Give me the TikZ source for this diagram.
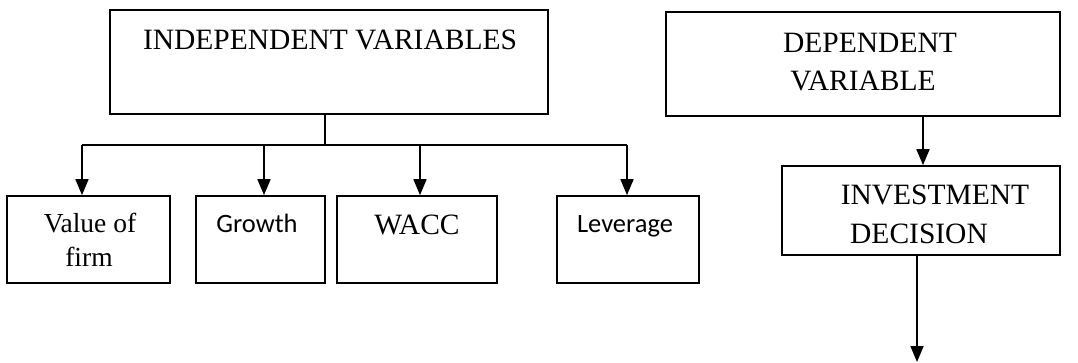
\documentclass[tikz,border=0pt]{standalone}
\usepackage{fontspec}
\setmainfont{Liberation Serif}
\newfontfamily\calib{Carlito}
\usetikzlibrary{arrows.meta}

\tikzset{
  box/.style={draw=black, line width=1.7pt, rectangle, inner sep=0pt},
  lbl/.style={anchor=base, inner sep=0pt, font=\fontsize{29.5}{35}\selectfont},
  sml/.style={anchor=base, inner sep=0pt, font=\fontsize{27.5}{33}\selectfont},
  cal/.style={anchor=base, inner sep=0pt, font=\calib\fontsize{26.5}{32}\selectfont},
  link/.style={draw=black, line width=1.7pt},
  arr/.style={link, -{Triangle[width=13pt,length=16pt]}}
}

\begin{document}
\begin{tikzpicture}[x=1pt, y=-1pt]
  \useasboundingbox (0,0) rectangle (1078,362);

  % boxes
  \node[box, minimum width=438pt, minimum height=104pt] (indep)  at (329,62)   {};
  \node[box, minimum width=394pt, minimum height=104pt] (dep)    at (863,64)   {};
  \node[box, minimum width=278pt, minimum height=89pt]  (invest) at (921,210.5) {};
  \node[box, minimum width=163pt, minimum height=87pt]  (value)  at (88.5,239.5) {};
  \node[box, minimum width=129pt, minimum height=87pt]  (growth) at (260.5,239.5) {};
  \node[box, minimum width=160pt, minimum height=87pt]  (wacc)   at (417,239.5) {};
  \node[box, minimum width=142pt, minimum height=87pt]  (lev)    at (628,239.5) {};

  % texts
  \node[lbl] (tIndep) at (330,49) {INDEPENDENT VARIABLES};
  \node[lbl] (tDep1)  at (870,52) {DEPENDENT};
  \node[lbl] (tDep2)  at (863,90) {VARIABLE};
  \node[lbl] (tInv1)  at (935,204) {INVESTMENT};
  \node[lbl] (tInv2)  at (919,243) {DECISION};
  \node[sml] (tVal1)  at (90,232) {Value of};
  \node[sml] (tVal2)  at (89,266) {firm};
  \node[cal] (tGro)   at (257,232) {Growth};
  \node[lbl] (tWacc)  at (417,234) {WACC};
  \node[cal] (tLev)   at (625,232) {Leverage};

  % branching from the independent variables
  \coordinate (hub) at (325,145);
  \coordinate (j1) at (82,145);
  \coordinate (j2) at (264,145);
  \coordinate (j3) at (420,145);
  \coordinate (j4) at (627,145);
  \draw[link] (indep.south -| hub) -- (hub);
  \draw[link] (j1) -- (j4);
  \draw[arr] (j1) -- (j1 |- value.north);
  \draw[arr] (j2) -- (j2 |- growth.north);
  \draw[arr] (j3) -- (j3 |- wacc.north);
  \draw[arr] (j4) -- (j4 |- lev.north);

  % dependent chain
  \coordinate (d1) at (923,0);
  \draw[arr] (d1 |- dep.south) -- (d1 |- invest.north);
  \coordinate (d2) at (917,362);
  \draw[arr] (d2 |- invest.south) -- (d2);
\end{tikzpicture}
\end{document}
